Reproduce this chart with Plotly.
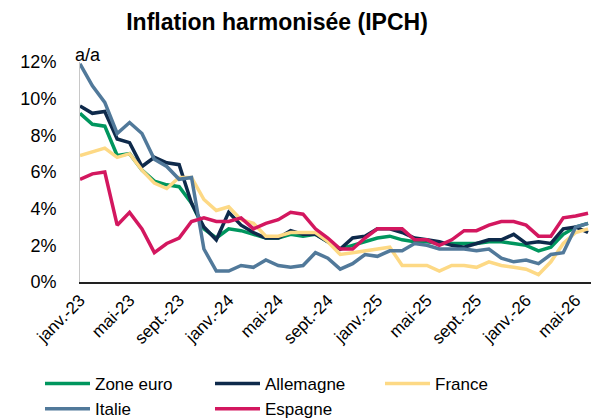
import plotly.graph_objects as go

months = ["déc.-22",
          "janv.-23", "févr.-23", "mars-23", "avr.-23", "mai-23", "juin-23", "juil.-23", "août-23", "sept.-23", "oct.-23", "nov.-23", "déc.-23",
          "janv.-24", "févr.-24", "mars-24", "avr.-24", "mai-24", "juin-24", "juil.-24", "août-24", "sept.-24", "oct.-24", "nov.-24", "déc.-24",
          "janv.-25", "févr.-25", "mars-25", "avr.-25", "mai-25", "juin-25", "juil.-25", "août-25", "sept.-25", "oct.-25", "nov.-25", "déc.-25",
          "janv.-26", "févr.-26", "mars-26", "avr.-26", "mai-26"]

tick_labels = ["janv.-23", "mai-23", "sept.-23", "janv.-24", "mai-24", "sept.-24",
               "janv.-25", "mai-25", "sept.-25", "janv.-26", "mai-26"]

zone_euro = [9.2, 8.6, 8.5, 6.9, 7.0, 6.1, 5.5, 5.3, 5.2, 4.3, 2.9, 2.4, 2.9, 2.8, 2.6, 2.4, 2.4,
             2.6, 2.5, 2.6, 2.2, 1.8, 2.0, 2.2, 2.4, 2.5, 2.3, 2.2, 2.2, 2.1, 2.1, 2.1, 2.1, 2.2, 2.2,
             2.1, 2.0, 1.7, 1.9, 2.6, 3.0, 3.2]
allemagne = [9.6, 9.2, 9.3, 7.8, 7.6, 6.3, 6.8, 6.5, 6.4, 4.3, 3.0, 2.3, 3.8, 3.1, 2.7, 2.4, 2.4,
             2.8, 2.6, 2.6, 2.2, 1.8, 2.4, 2.5, 2.9, 2.9, 2.7, 2.4, 2.3, 2.2, 2.0, 1.9, 2.1, 2.3, 2.3,
             2.6, 2.1, 2.2, 2.1, 2.9, 3.0, 2.7]
france = [6.9, 7.1, 7.3, 6.8, 7.0, 6.1, 5.4, 5.1, 5.7, 5.7, 4.5, 3.9, 4.1, 3.4, 3.2, 2.5, 2.5,
          2.7, 2.7, 2.7, 2.2, 1.5, 1.6, 1.7, 1.8, 1.9, 0.9, 0.9, 0.9, 0.6, 0.9, 0.9, 0.8, 1.1, 0.9,
          0.8, 0.7, 0.4, 1.1, 2.1, 2.7, 2.9]
italie = [11.9, 10.7, 9.8, 8.1, 8.7, 8.1, 6.7, 6.3, 5.6, 5.7, 1.8, 0.6, 0.6, 0.9, 0.8, 1.2, 0.9,
          0.8, 0.9, 1.6, 1.3, 0.7, 1.0, 1.5, 1.4, 1.7, 1.7, 2.1, 2.0, 1.8, 1.8, 1.8, 1.7, 1.8, 1.3,
          1.1, 1.2, 1.0, 1.5, 1.6, 3.0, 3.2]
espagne = [5.6, 5.9, 6.0, 3.1, 3.8, 2.9, 1.6, 2.1, 2.4, 3.3, 3.5, 3.3, 3.3, 3.5, 2.9, 3.2, 3.4,
           3.8, 3.7, 2.9, 2.4, 1.8, 1.8, 2.4, 2.9, 2.9, 2.9, 2.3, 2.3, 2.0, 2.3, 2.8, 2.8, 3.1, 3.3,
           3.3, 3.1, 2.5, 2.5, 3.5, 3.6, 3.75]

series = [
    ("Zone euro", zone_euro, "#00965E"),
    ("Allemagne", allemagne, "#0E2A4B"),
    ("France", france, "#FDD985"),
    ("Italie", italie, "#51799A"),
    ("Espagne", espagne, "#D3175F"),
]

x = list(range(len(months)))
tick_idx = [i for i in range(0, len(months)) if (i % 4) == 0][:len(tick_labels)]

fig = go.Figure()
for name, vals, col in series:
    fig.add_trace(go.Scatter(x=x, y=[v / 100 for v in vals], mode="lines", name=name,
                             line=dict(color=col, width=3.5), customdata=months,
                             hovertemplate="%{customdata}: %{y:.1%}<extra>" + name + "</extra>"))

W, H = 591, 411
font = "Liberation Sans, Arial, sans-serif"
fig.update_layout(
    width=W, height=H,
    margin=dict(l=72, r=6, t=54, b=137),
    paper_bgcolor="white", plot_bgcolor="white",
    font=dict(family=font, size=17, color="#000000"),
    title=dict(text="<b>Inflation harmonisée (IPCH)</b>", x=269 / W, xanchor="center",
               y=1 - 14 / H, yanchor="middle", font=dict(size=23, family=font, color="#000000")),
    showlegend=True,
    legend=dict(orientation="h", xref="container", yref="container", x=32 / W, y=1 - 358 / H,
                xanchor="left", yanchor="top", entrywidth=110, entrywidthmode="pixels",
                itemwidth=45, font=dict(size=17, family=font), tracegroupgap=0,
                bgcolor="rgba(0,0,0,0)"),
)
fig.update_xaxes(range=[0, 41.4], tickmode="array", tickvals=tick_idx, ticktext=tick_labels,
                 tickangle=-45, tickfont=dict(size=17), showgrid=False, zeroline=False,
                 showline=True, linecolor="#222222", linewidth=1.5, ticks="")
fig.update_yaxes(range=[0, 0.12], dtick=0.02, tickformat=".0%", tickfont=dict(size=18),
                 showgrid=False, zeroline=False, showline=True, linecolor="#C8C8C8",
                 linewidth=1, ticks="", ticklabelstandoff=19)
fig.add_annotation(text="a/a", xref="paper", yref="paper", x=0, y=1, xshift=-7, yshift=7,
                   xanchor="left", yanchor="middle", showarrow=False,
                   font=dict(size=18, family=font))
fig.write_html("out.html")
